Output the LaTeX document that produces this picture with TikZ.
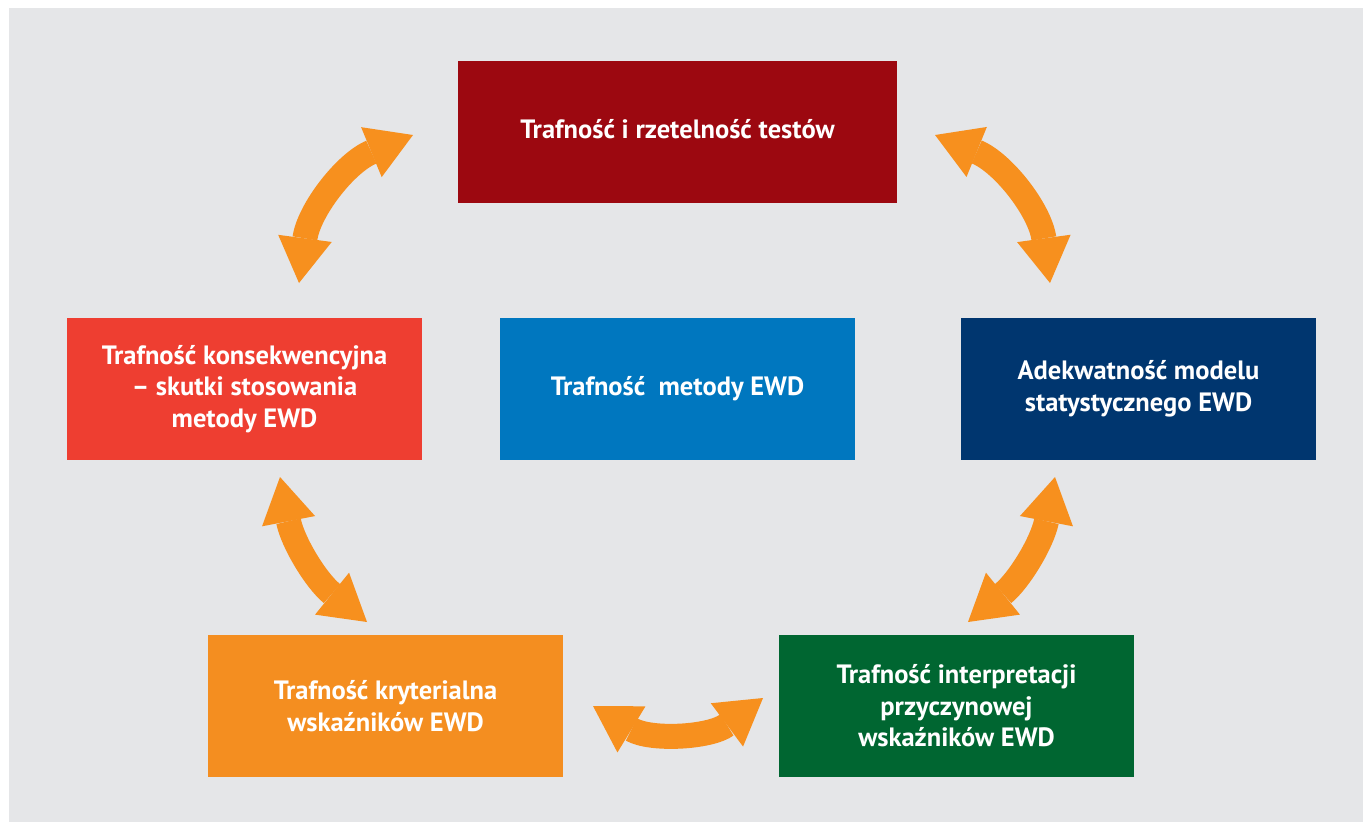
\documentclass[tikz,border=0pt]{standalone}
\usepackage{fontspec}
\setmainfont{PT Sans}
\usetikzlibrary{arrows.meta}
\definecolor{bg}{HTML}{E5E6E8}
\definecolor{cdarkred}{HTML}{9C0810}
\definecolor{cred}{HTML}{EE3E31}
\definecolor{cblue}{HTML}{0077BF}
\definecolor{cnavy}{HTML}{00366F}
\definecolor{corange}{HTML}{F48E20}
\definecolor{cgreen}{HTML}{006631}
\definecolor{carrow}{HTML}{F7901E}
\tikzset{
  box/.style={draw=none, minimum width=355pt, minimum height=142pt, inner sep=0pt,
    text=white, font=\fontsize{26.5}{31.5}\selectfont\bfseries, align=center},
  dblarrow/.style={draw=carrow, line width=25pt,
    {Triangle[length=45pt,width=54pt,line width=0pt]}-{Triangle[length=45pt,width=54pt,line width=0pt]}}
}
\begin{document}
\begin{tikzpicture}[x=1pt,y=1pt]
\useasboundingbox (0,0) rectangle (1365,-822);
\fill[white] (0,0) rectangle (1365,-822);
\fill[bg] (9,-8) rectangle (1363,-822);
% boxes
\node[box, fill=cdarkred, minimum width=439pt] (top) at (677.5,-131.5) {\raisebox{6pt}{Trafność i rzetelność testów}};
\node[box, fill=cred] (left) at (244.5,-389) {Trafność konsekwencyjna\\– skutki stosowania\\metody EWD};
\node[box, fill=cblue] (center) at (677.5,-389) {Trafność\enspace metody EWD};
\node[box, fill=cnavy] (right) at (1138.5,-389) {Adekwatność modelu\\statystycznego EWD};
\node[box, fill=corange] (bl) at (385.5,-706) {Trafność kryterialna\\wskaźników EWD};
\node[box, fill=cgreen] (br) at (956.5,-706) {Trafność interpretacji\\przyczynowej\\wskaźników EWD};
% arrow ends
\coordinate (a1s) at (299,-283);
\coordinate (a1e) at (413,-135);
\coordinate (a2s) at (935,-135);
\coordinate (a2e) at (1050,-283);
\coordinate (a3s) at (1055,-477);
\coordinate (a3e) at (968,-622);
\coordinate (a4s) at (763,-698);
\coordinate (a4e) at (593,-706);
\coordinate (a5s) at (280,-477);
\coordinate (a5e) at (367,-622);
% arrows
\draw[dblarrow] (a1s) to[bend left=30] (a1e);
\draw[dblarrow] (a2s) to[bend left=30] (a2e);
\draw[dblarrow] (a3s) to[bend left=20] (a3e);
\draw[dblarrow] (a4s) to[bend left=34] (a4e);
\draw[dblarrow] (a5s) to[bend right=20] (a5e);
\end{tikzpicture}
\end{document}
